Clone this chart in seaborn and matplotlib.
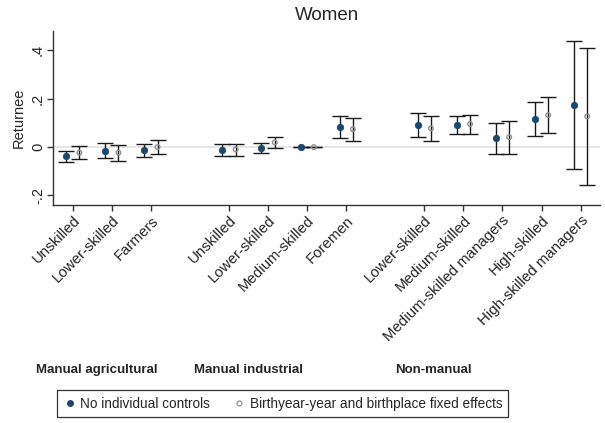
import matplotlib
matplotlib.use("Agg")
import matplotlib.pyplot as plt
from matplotlib.lines import Line2D
import seaborn as sns
import numpy as np
import pandas as pd

# ---- data ----
categories = ["Unskilled", "Lower-skilled", "Farmers",
              "Unskilled", "Lower-skilled", "Medium-skilled", "Foremen",
              "Lower-skilled", "Medium-skilled", "Medium-skilled managers",
              "High-skilled", "High-skilled managers"]
positions = [0, 1, 2, 4, 5, 6, 7, 9, 10, 11, 12, 13]
groups = ["Manual agricultural", "Manual industrial", "Non-manual"]

nocontrol_est = [-0.038, -0.015, -0.014, -0.014, -0.004, 0.0, 0.082,
                 0.092, 0.090, 0.036, 0.115, 0.174]
nocontrol_lo = [-0.063, -0.047, -0.041, -0.037, -0.026, 0.0, 0.036,
                0.042, 0.053, -0.030, 0.044, -0.089]
nocontrol_hi = [-0.016, 0.016, 0.014, 0.011, 0.015, 0.0, 0.127,
                0.141, 0.127, 0.099, 0.188, 0.440]

fe_est = [-0.023, -0.023, 0.000, -0.010, 0.019, 0.0, 0.074,
          0.077, 0.095, 0.041, 0.132, 0.127]
fe_lo = [-0.049, -0.056, -0.030, -0.037, -0.004, 0.0, 0.026,
         0.025, 0.053, -0.027, 0.058, -0.156]
fe_hi = [0.003, 0.008, 0.029, 0.014, 0.041, 0.0, 0.121,
         0.127, 0.132, 0.108, 0.205, 0.411]

series_names = ["No individual controls", "Birthyear-year and birthplace fixed effects"]
ytick_vals = [-0.2, 0.0, 0.2, 0.4]
ytick_labels = ["-.2", "0", ".2", ".4"]

# ---- style ----
sns.set_theme(style="white")
plt.rcParams["font.family"] = ["Liberation Sans", "DejaVu Sans"]

blue = "#1a476f"
gray = "#909090"
offset = 0.17

df = pd.DataFrame({
    "pos": np.r_[np.array(positions) - offset, np.array(positions) + offset],
    "est": nocontrol_est + fe_est,
    "lo": nocontrol_lo + fe_lo,
    "hi": nocontrol_hi + fe_hi,
    "series": [series_names[0]] * len(positions) + [series_names[1]] * len(positions),
})

fig = plt.figure(figsize=(6.05, 4.23), dpi=100)
ax = fig.add_axes([0.088, 0.515, 0.904, 0.412])

ax.axhline(0, color="#e3e3e3", lw=1.2, zorder=0)

for name in series_names:
    d = df[df["series"] == name]
    ax.errorbar(d["pos"], d["est"],
                yerr=[d["est"] - d["lo"], d["hi"] - d["est"]],
                fmt="none", ecolor="#1a1a1a", elinewidth=1.0, capsize=5.5,
                capthick=1.0, zorder=2)

d0 = df[df["series"] == series_names[0]]
d1 = df[df["series"] == series_names[1]]
sns.scatterplot(x=d0["pos"], y=d0["est"], ax=ax, color=blue, s=22,
                edgecolor=blue, linewidth=0.5, zorder=3, legend=False)
sns.scatterplot(x=d1["pos"], y=d1["est"], ax=ax, facecolor="none", s=11,
                edgecolor=gray, linewidth=1.0, zorder=3, legend=False)

ax.set_xlim(-0.5, 13.5)
ax.set_ylim(-0.24, 0.48)
ax.set_xticks(positions)
ax.set_xticklabels(categories, rotation=45, ha="right", rotation_mode="anchor",
                   fontsize=10.8)
ax.set_yticks(ytick_vals)
ax.set_yticklabels(ytick_labels, rotation=90, va="center", fontsize=10.5)
ax.set_xlabel("")
ax.set_ylabel("Returnee", fontsize=10.5, labelpad=4)
ax.set_title("Women", fontsize=13.5, pad=8)

for s in ["top", "right"]:
    ax.spines[s].set_visible(False)
for s in ["left", "bottom"]:
    ax.spines[s].set_color("#333333")
    ax.spines[s].set_linewidth(1.0)
ax.tick_params(axis="both", which="both", length=4, width=1, color="#333333",
               direction="out", left=True, bottom=True, pad=2)

group_x = [0.1595, 0.41, 0.7165]
for g, gx in zip(groups, group_x):
    fig.text(gx, 0.125, g, ha="center", va="center", fontsize=9.5,
             fontweight="bold")

handles = [
    Line2D([], [], linestyle="none", marker="o", markersize=4,
           markerfacecolor=blue, markeredgecolor=blue),
    Line2D([], [], linestyle="none", marker="o", markersize=3.5,
           markerfacecolor="none", markeredgecolor=gray, markeredgewidth=0.9),
]
leg = fig.legend(handles, series_names, loc="center", ncol=2,
                 bbox_to_anchor=(0.467, 0.046), frameon=True, fancybox=False,
                 edgecolor="black", fontsize=9.8, handletextpad=0.3,
                 columnspacing=1.6, borderpad=0.45, handlelength=1.0)
leg.get_frame().set_linewidth(0.9)

fig.savefig("out.png", dpi=100)
